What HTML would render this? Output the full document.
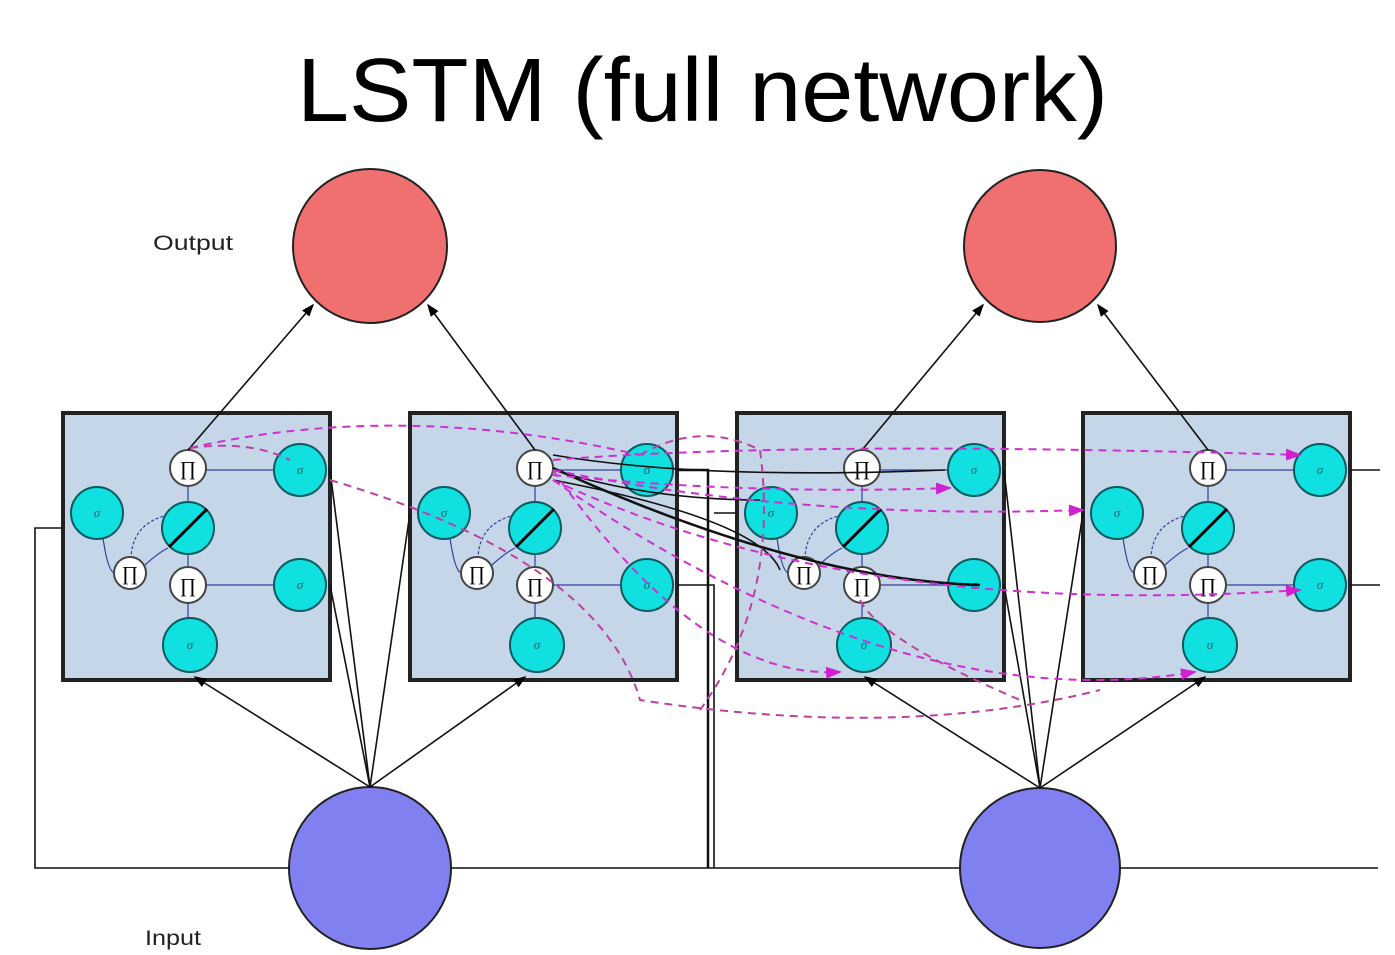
<!DOCTYPE html>
<html><head><style>body{margin:0;background:#fff}svg{display:block}</style></head><body>
<svg width="1395" height="955" viewBox="0 0 1395 955" xmlns="http://www.w3.org/2000/svg" font-family="Liberation Sans, sans-serif">
<defs>
<marker id="a" markerWidth="8" markerHeight="8" refX="7" refY="4" orient="auto"><path d="M0,1 L8,4 L0,7z" fill="#000"/></marker>
<marker id="m" markerWidth="8" markerHeight="8" refX="7" refY="4" orient="auto"><path d="M0,1 L8,4 L0,7z" fill="#d020d0"/></marker>
<g id="blk">
<rect x="0" y="0" width="267" height="267" fill="#c4d6e8" stroke="#222" stroke-width="4"/>
<g stroke="#3040a0" stroke-width="1.2" fill="none">
<line x1="211" y1="57" x2="143" y2="57"/><line x1="211" y1="172" x2="143" y2="172"/>
<line x1="125" y1="90" x2="125" y2="73"/><line x1="125" y1="140" x2="125" y2="154"/>
<line x1="125" y1="205" x2="125" y2="190"/>
<path d="M40,125 Q45,160 52,160"/><path d="M82,152 Q95,140 105,135"/>
<path d="M105,102 Q70,110 68,144" stroke-dasharray="3,2"/>
</g>
<g stroke="#0a5a60" stroke-width="2" fill="#10e0e0">
<circle cx="34" cy="100" r="26"/><circle cx="125" cy="115" r="26"/>
<circle cx="127" cy="232" r="27"/><circle cx="237" cy="57" r="26"/><circle cx="237" cy="172" r="26"/>
</g>
<line x1="106" y1="134" x2="144" y2="96" stroke="#000" stroke-width="3"/>
<g stroke="#444" stroke-width="2" fill="#fff">
<circle cx="125" cy="55" r="18"/><circle cx="67" cy="160" r="16"/><circle cx="125" cy="172" r="18"/>
</g>
<g font-size="20" text-anchor="middle" font-family="Liberation Serif, serif">
<text x="125" y="62">∏</text><text x="67" y="167">∏</text><text x="125" y="179">∏</text>
</g>
<g font-size="13" font-style="italic" text-anchor="middle" fill="#206070" font-family="Liberation Serif, serif">
<text x="34" y="104">σ</text><text x="127" y="236">σ</text><text x="237" y="61">σ</text><text x="237" y="176">σ</text>
</g>
</g>
</defs>
<text x="297" y="121" font-size="90" textLength="811" lengthAdjust="spacingAndGlyphs">LSTM (full network)</text>
<text x="153" y="250" font-size="21" textLength="80" lengthAdjust="spacingAndGlyphs" fill="#222">Output</text>
<text x="145" y="945" font-size="21" textLength="56" lengthAdjust="spacingAndGlyphs" fill="#222">Input</text>
<circle cx="370" cy="246" r="77" fill="#f07070" stroke="#222" stroke-width="2"/>
<circle cx="1040" cy="246" r="76" fill="#f07070" stroke="#222" stroke-width="2"/>
<use href="#blk" x="63" y="413"/><use href="#blk" x="410" y="413"/>
<use href="#blk" x="737" y="413"/><use href="#blk" x="1083" y="413"/>
<circle cx="370" cy="868" r="81" fill="#8080f0" stroke="#222" stroke-width="2"/>
<circle cx="1040" cy="868" r="80" fill="#8080f0" stroke="#222" stroke-width="2"/>
<g stroke="#111" stroke-width="1.6" fill="none">
<line x1="188" y1="450" x2="313" y2="305" marker-end="url(#a)"/>
<line x1="535" y1="450" x2="428" y2="305" marker-end="url(#a)"/>
<line x1="862" y1="450" x2="983" y2="305" marker-end="url(#a)"/>
<line x1="1208" y1="450" x2="1098" y2="305" marker-end="url(#a)"/>
<line x1="370" y1="787" x2="195" y2="677" marker-end="url(#a)"/>
<line x1="370" y1="787" x2="330" y2="470"/><line x1="370" y1="787" x2="330" y2="585"/>
<line x1="370" y1="787" x2="410" y2="513"/><line x1="370" y1="787" x2="525" y2="677" marker-end="url(#a)"/>
<line x1="1040" y1="788" x2="865" y2="677" marker-end="url(#a)"/>
<line x1="1040" y1="788" x2="1004" y2="470"/><line x1="1040" y1="788" x2="1004" y2="585"/>
<line x1="1040" y1="788" x2="1083" y2="513"/><line x1="1040" y1="788" x2="1205" y2="677" marker-end="url(#a)"/>
<polyline points="289,868 35,868 35,528 63,528"/>
<line x1="451" y1="868" x2="959" y2="868"/><line x1="1120" y1="868" x2="1378" y2="868"/>
<polyline points="708,868 708,470 677,470" stroke-width="2.5"/>
<polyline points="714,868 714,585 677,585"/>
<line x1="714" y1="513" x2="737" y2="513"/>
<line x1="1380" y1="470" x2="1350" y2="470"/><line x1="1380" y1="585" x2="1350" y2="585"/>
<path d="M553,455 Q700,480 945,470"/><path d="M553,470 Q650,500 760,500"/>
<path d="M553,480 Q760,520 780,570"/><path d="M553,468 Q800,580 980,585" stroke-width="2.5"/>
</g>
<g stroke="#c040a0" stroke-width="2" fill="none" stroke-dasharray="8,6">
<path d="M190,448 Q400,400 640,455" stroke="#d030d0"/>
<path d="M190,448 Q250,440 290,460"/>
<path d="M553,460 Q800,440 1300,455" stroke="#d030d0" marker-end="url(#m)"/>
<path d="M553,475 Q750,495 950,488" stroke="#d030d0" marker-end="url(#m)"/>
<path d="M553,470 Q800,520 1083,510" stroke="#d030d0" marker-end="url(#m)"/>
<path d="M553,480 Q850,620 1300,590" stroke="#d030d0" marker-end="url(#m)"/>
<path d="M553,470 Q700,680 840,672" stroke="#d030d0" marker-end="url(#m)"/>
<path d="M553,480 Q900,720 1195,672" stroke="#d030d0" marker-end="url(#m)"/>
<path d="M330,480 Q600,560 640,700 Q900,740 1100,690"/>
<path d="M640,455 Q700,420 760,450 Q780,600 700,710"/>
<path d="M860,600 Q880,640 1020,700"/>
</g>
</svg>
</body></html>
